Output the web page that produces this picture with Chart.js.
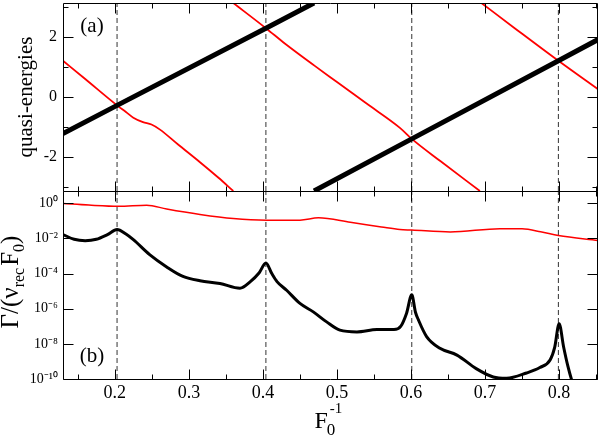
<!DOCTYPE html>
<html><head><meta charset="utf-8">
<script src="https://cdn.jsdelivr.net/npm/chart.js@4/dist/chart.umd.min.js"></script>
<style>html,body{margin:0;padding:0;background:#fff}</style>
</head><body>
<canvas id="c" width="600" height="436"></canvas>
<script>
// ---------------- data ----------------
const xTicksMajor = [0.2, 0.3, 0.4, 0.5, 0.6, 0.7, 0.8];
const xTicksMinor = [0.15, 0.25, 0.35, 0.45, 0.55, 0.65, 0.75, 0.85];
const qeTicksMajor = [-2, 0, 2];
const qeTicksMinor = [-3, -1, 1, 3];
const gammaTicks = [1e-10, 1e-8, 1e-6, 1e-4, 1e-2, 1e0];
const gammaTickLabels = ['10⁻¹⁰', '10⁻⁸', '10⁻⁶', '10⁻⁴', '10⁻²', '10⁰'];
const resonanceF = [0.203, 0.404, 0.601, 0.799];

// panel (a): quasi-energies (wrapped into [-pi, pi])
const thickAF = [0.130, 0.203, 0.404, 0.469];
const thickAE = [-1.22, -0.28, 2.30, 3.1416];
const thickBF = [0.469, 0.601, 0.799, 0.8525];
const thickBE = [-3.1416, -1.40, 1.21, 1.92];

const redAF = [0.130, 0.160, 0.203, 0.215, 0.225, 0.238, 0.2495, 0.261, 0.285, 0.315, 0.340, 0.360];
const redAE = [1.21, 0.60, -0.28, -0.50, -0.69, -0.84, -0.92, -1.09, -1.58, -2.18, -2.70, -3.1416];
const redBF = [0.360, 0.404, 0.430, 0.470, 0.500, 0.540, 0.585, 0.601, 0.640, 0.693];
const redBE = [3.1416, 2.30, 1.78, 1.04, 0.50, -0.22, -1.03, -1.40, -2.15, -3.1416];
const redCF = [0.695, 0.740, 0.799, 0.8525];
const redCE = [3.1416, 2.30, 1.21, 0.26];

// panel (b): widths Gamma/(nu_rec F0)
const gRedF = [0.130, 0.165, 0.205, 0.243, 0.270, 0.315, 0.360, 0.405, 0.450, 0.475, 0.518, 0.560, 0.585, 0.601, 0.653, 0.720, 0.750, 0.775, 0.799, 0.8525];
const gRedV = [0.97, 0.79, 0.68, 0.78, 0.47, 0.23, 0.135, 0.110, 0.110, 0.148, 0.083, 0.045, 0.032, 0.030, 0.0234, 0.036, 0.035, 0.024, 0.0145, 0.0076];

const gBlackF = [0.130, 0.145, 0.160, 0.175, 0.190, 0.203, 0.215, 0.225, 0.247, 0.270, 0.292, 0.315, 0.342, 0.369, 0.383, 0.395, 0.404, 0.412, 0.419, 0.432, 0.450, 0.468, 0.486, 0.504, 0.527, 0.554, 0.577, 0.586, 0.594, 0.601, 0.606, 0.610, 0.621, 0.639, 0.662, 0.688, 0.711, 0.729, 0.756, 0.774, 0.788, 0.794, 0.800, 0.806, 0.812, 0.817, 0.823];
const gBlackV = [1.66e-2, 8.9e-3, 7.4e-3, 8.9e-3, 1.66e-2, 3.2e-2, 1.78e-2, 8.5e-3, 1.2e-3, 2.4e-4, 6.9e-5, 3.9e-5, 2.75e-5, 1.48e-5, 3.5e-5, 1.12e-4, 4.0e-4, 1.0e-4, 3.5e-5, 1.12e-5, 2.0e-6, 6.6e-7, 1.78e-7, 6.0e-8, 4.8e-8, 6.5e-8, 6.5e-8, 9.8e-8, 5.6e-7, 6.2e-6, 6.3e-7, 2.3e-7, 2.6e-8, 5.6e-9, 2.3e-9, 3.9e-10, 1.3e-10, 1.1e-10, 2.2e-10, 4.5e-10, 1.26e-9, 6.3e-9, 1.41e-7, 6.9e-9, 5.0e-10, 8.7e-11, 2.0e-11];

// ---------------- chart ----------------
const PI = Math.PI;
const SERIF = "'Liberation Serif', 'Times New Roman', serif";
const pts = (xs, ys) => xs.map((x, i) => ({x, y: ys[i]}));
const vlines = (lo, hi) => resonanceF.flatMap(f => [{x: f, y: lo}, {x: f, y: hi}, {x: f, y: null}]);

const lineDs = (data, axis, color, width, interp) => ({
  data, yAxisID: axis, borderColor: color, borderWidth: width,
  pointRadius: 0, fill: false, clip: 0,
  tension: 0, cubicInterpolationMode: interp ? 'monotone' : 'default'
});

const datasets = [
  lineDs(pts(thickAF, thickAE), 'yq', '#000', 5, false),
  lineDs(pts(thickBF, thickBE), 'yq', '#000', 5, false),
  lineDs(pts(redAF, redAE), 'yq', '#ff0000', 1.8, true),
  lineDs(pts(redBF, redBE), 'yq', '#ff0000', 1.8, true),
  lineDs(pts(redCF, redCE), 'yq', '#ff0000', 1.8, true),
  lineDs(pts(gBlackF, gBlackV), 'yg', '#000', 3, true),
  lineDs(pts(gRedF, gRedV), 'yg', '#ff0000', 1.5, true),
  Object.assign(lineDs(vlines(-PI, PI), 'yq', '#333', 1, false), {borderDash: [5, 3], spanGaps: false}),
  Object.assign(lineDs(vlines(1e-10, 5), 'yg', '#333', 1, false), {borderDash: [5, 3], spanGaps: false})
];

const noPad = s => { s.paddingTop = 0; s.paddingBottom = 0; s.paddingLeft = 0; s.paddingRight = 0; };

const frameTicks = {
  id: 'frameTicks',
  afterDatasetsDraw(chart) {
    const {ctx} = chart;
    const x = chart.scales.x, yq = chart.scales.yq, yg = chart.scales.yg;
    const L = Math.round(x.left) + 0.5, R = Math.round(x.right) - 0.5;
    ctx.save();
    ctx.strokeStyle = '#000';
    ctx.lineWidth = 1;
    const panel = (ys, yMajor, yMinor) => {
      const T = Math.round(ys.top) + 0.5, B = Math.round(ys.bottom) + 0.5;
      ctx.beginPath();
      ctx.rect(L, T, R - L, B - T);
      for (const [vals, len] of [[xTicksMajor, 10], [xTicksMinor, 5]]) {
        for (const v of vals) {
          const px = Math.round(x.getPixelForValue(v)) + 0.5;
          if (px <= L || px >= R) continue;
          ctx.moveTo(px, T); ctx.lineTo(px, T + len);
          ctx.moveTo(px, B); ctx.lineTo(px, B - len);
        }
      }
      for (const [vals, len] of [[yMajor, 10], [yMinor, 5]]) {
        for (const v of vals) {
          const py = Math.round(ys.getPixelForValue(v)) + 0.5;
          ctx.moveTo(L, py); ctx.lineTo(L + len, py);
          ctx.moveTo(R, py); ctx.lineTo(R - len, py);
        }
      }
      ctx.stroke();
    };
    panel(yq, qeTicksMajor, qeTicksMinor);
    panel(yg, gammaTicks, []);
    ctx.restore();
  },
  afterDraw(chart) {
    const {ctx} = chart;
    const x = chart.scales.x, yq = chart.scales.yq, yg = chart.scales.yg;
    ctx.save();
    ctx.fillStyle = '#000';
    // panel labels
    ctx.font = '21px ' + SERIF;
    ctx.textAlign = 'center';
    ctx.textBaseline = 'middle';
    ctx.fillText('(a)', x.left + 29, yq.top + 23);
    ctx.fillText('(b)', x.left + 29, yg.bottom - 23);
    // rich-text helper
    const rich = (segs) => {
      let w = 0;
      for (const s of segs) { ctx.font = s.size + 'px ' + SERIF; s.w = ctx.measureText(s.t).width; w += s.w + (s.gap || 0); }
      return w;
    };
    ctx.textAlign = 'left';
    ctx.textBaseline = 'alphabetic';
    // y title of panel (b)
    const ySegs = [
      {t: 'Γ/(ν', size: 25, dy: 0},
      {t: 'rec', size: 16, dy: 6},
      {t: 'F', size: 25, dy: 0, gap: 2},
      {t: '0', size: 16, dy: 6},
      {t: ')', size: 25, dy: 0}
    ];
    const yw = rich(ySegs);
    ctx.save();
    ctx.translate(18, (yg.top + yg.bottom) / 2 - 3);
    ctx.rotate(-Math.PI / 2);
    let cx = -yw / 2;
    for (const s of ySegs) {
      cx += (s.gap || 0);
      ctx.font = s.size + 'px ' + SERIF;
      ctx.fillText(s.t, cx, s.dy);
      cx += s.w;
    }
    ctx.restore();
    // x title F0^-1
    const midX = (x.left + x.right) / 2;
    ctx.font = '24px ' + SERIF;
    const fw = ctx.measureText('F').width;
    const fx = midX - 16;
    ctx.fillText('F', fx, 428);
    ctx.font = '17px ' + SERIF;
    ctx.fillText('0', fx + fw - 1, 435);
    ctx.font = '15px ' + SERIF;
    ctx.fillText('-1', fx + fw + 2, 413);
    ctx.restore();
  }
};

new Chart(document.getElementById('c'), {
  type: 'line',
  data: {datasets},
  options: {
    responsive: false,
    animation: false,
    devicePixelRatio: 1,
    layout: {padding: {left: 0, right: 2, top: 3, bottom: 0}},
    plugins: {legend: {display: false}, tooltip: {enabled: false}},
    scales: {
      x: {
        type: 'linear', position: 'bottom', min: 0.13, max: 0.8525,
        grid: {display: false, drawTicks: false}, border: {display: false},
        afterBuildTicks: s => { s.ticks = xTicksMajor.map(v => ({value: v})); },
        afterFit: s => { s.height = 57; noPad(s); },
        ticks: {color: '#000', font: {family: SERIF, size: 18}, padding: 3, maxRotation: 0,
                callback: v => Number(v).toFixed(1)}
      },
      yg: {
        type: 'logarithmic', position: 'left', stack: 'panels', stackWeight: 1,
        min: 1e-10, max: 5,
        grid: {display: false, drawTicks: false}, border: {display: false},
        afterBuildTicks: s => { s.ticks = gammaTicks.map(v => ({value: v})); },
        afterFit: s => { s.width = 63; noPad(s); },
        ticks: {color: '#000', font: {family: SERIF, size: 14}, padding: 5,
                callback: (v, i) => gammaTickLabels[i]}
      },
      yq: {
        type: 'linear', position: 'left', stack: 'panels', stackWeight: 1,
        min: -PI, max: PI,
        grid: {display: false, drawTicks: false}, border: {display: false},
        afterBuildTicks: s => { s.ticks = qeTicksMajor.map(v => ({value: v})); },
        afterFit: s => { s.width = 63; noPad(s); },
        title: {display: true, text: 'quasi-energies', color: '#000',
                font: {family: SERIF, size: 21}, padding: {top: 14, bottom: 0}},
        ticks: {color: '#000', font: {family: SERIF, size: 16}, padding: 6,
                callback: v => String(v)}
      }
    }
  },
  plugins: [frameTicks]
});
</script>
</body></html>
